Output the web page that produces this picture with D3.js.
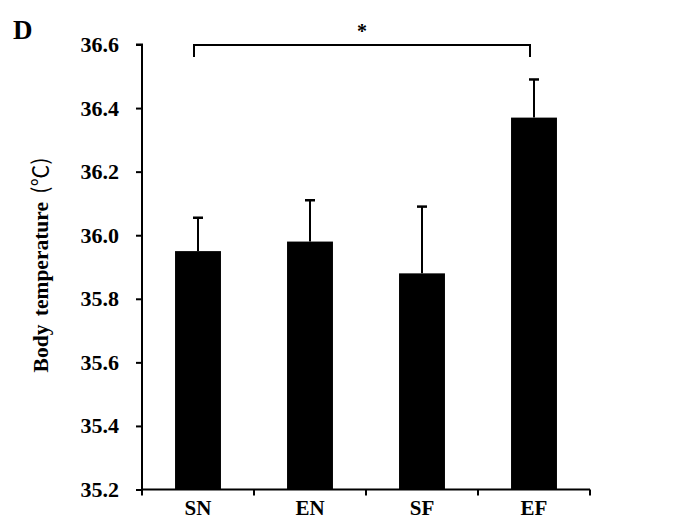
<!DOCTYPE html>
<html><head><meta charset="utf-8">
<script src="https://cdn.jsdelivr.net/npm/d3@7"></script>
<style>body{margin:0;background:#fff}</style>
</head><body>
<svg id="c" width="688" height="523"></svg>
<script>
const categories = ["SN","EN","SF","EF"];
const means = [35.95, 35.98, 35.88, 36.37];
const errors = [0.105, 0.13, 0.21, 0.12];
const yTicks = [35.2,35.4,35.6,35.8,36.0,36.2,36.4,36.6];
const yLabelMain = "Body temperature ";
const yLabelUnit = "(\u2103)";
const panelLabel = "D";
const sig = {from:"SN", to:"EF", text:"*"};

const svg = d3.select("#c");
const font = "'Liberation Serif','Times New Roman',serif";
const m = {left:142, right:590, top:44.5, bottom:489.5};
const x = d3.scaleBand().domain(categories).range([m.left, m.right]).paddingInner(0.59).paddingOuter(0.295);
const y = d3.scaleLinear().domain([35.2, 36.6]).range([m.bottom, m.top]);

// bars
svg.selectAll("rect.bar").data(categories).enter().append("rect")
  .attr("x", d=>x(d)).attr("width", x.bandwidth())
  .attr("y", (d,i)=>y(means[i])).attr("height", (d,i)=>y(35.2)-y(means[i]))
  .attr("fill","#000");

// error bars
const eb = svg.append("g").attr("stroke","#000").attr("stroke-width",2);
categories.forEach((c,i)=>{
  const cx = x(c)+x.bandwidth()/2;
  eb.append("line").attr("x1",cx).attr("x2",cx).attr("y1",y(means[i])).attr("y2",y(means[i]+errors[i]));
  eb.append("line").attr("x1",cx-5).attr("x2",cx+5).attr("y1",y(means[i]+errors[i])).attr("y2",y(means[i]+errors[i])).attr("stroke-width",2.5);
});

// y axis
const ya = svg.append("g").attr("transform",`translate(${m.left},0)`)
  .call(d3.axisLeft(y).tickValues(yTicks).tickFormat(d3.format(".1f")).tickSize(6).tickPadding(17));
ya.select(".domain").attr("stroke","#000").attr("stroke-width",2).attr("d",`M-6,${m.top}H0V${m.bottom}`);
ya.selectAll(".tick line").attr("stroke","#000").attr("stroke-width",2);
ya.selectAll(".tick text").attr("font-family",font).attr("font-weight","bold").attr("font-size",22).attr("fill","#000");

// x axis
const xa = svg.append("g").attr("transform",`translate(0,${m.bottom})`)
  .call(d3.axisBottom(x).tickSize(0));
xa.select(".domain").attr("stroke","#000").attr("stroke-width",2).attr("d",`M${m.left},0H${m.right}`);
xa.selectAll(".tick text").attr("font-family",font).attr("font-weight","bold").attr("font-size",21).attr("fill","#000").attr("y",25.5).attr("dy",null);
const step = x.step();
const bounds = d3.range(categories.length+1).map(i=>m.left+i*step);
xa.selectAll("line.sep").data(bounds).enter().append("line")
  .attr("x1",d=>d).attr("x2",d=>d).attr("y1",0).attr("y2",6).attr("stroke","#000").attr("stroke-width",2);

// y label
const yl = svg.append("text").attr("transform",`translate(48,265) rotate(-90)`)
  .attr("text-anchor","middle").attr("font-family",font).attr("font-weight","bold").attr("font-size",21.5).attr("word-spacing",3);
yl.append("tspan").text(yLabelMain);
yl.append("tspan").attr("font-family","'Noto Sans CJK SC',serif").attr("font-weight","normal").text(yLabelUnit);

// panel label
svg.append("text").attr("x",13).attr("y",39).attr("font-family",font).attr("font-weight","bold").attr("font-size",27).text(panelLabel);

// significance bracket
const x1 = x(sig.from)+x.bandwidth()/2-4, x2 = x(sig.to)+x.bandwidth()/2-4;
const by = y(36.6)+0.5;
svg.append("path").attr("d",`M${x1},${by+12}V${by}H${x2}V${by+12}`).attr("fill","none").attr("stroke","#000").attr("stroke-width",2);
svg.append("text").attr("x",(x1+x2)/2).attr("y",by-7).attr("text-anchor","middle").attr("font-family",font).attr("font-weight","bold").attr("font-size",20).text(sig.text);
</script>
</body></html>
